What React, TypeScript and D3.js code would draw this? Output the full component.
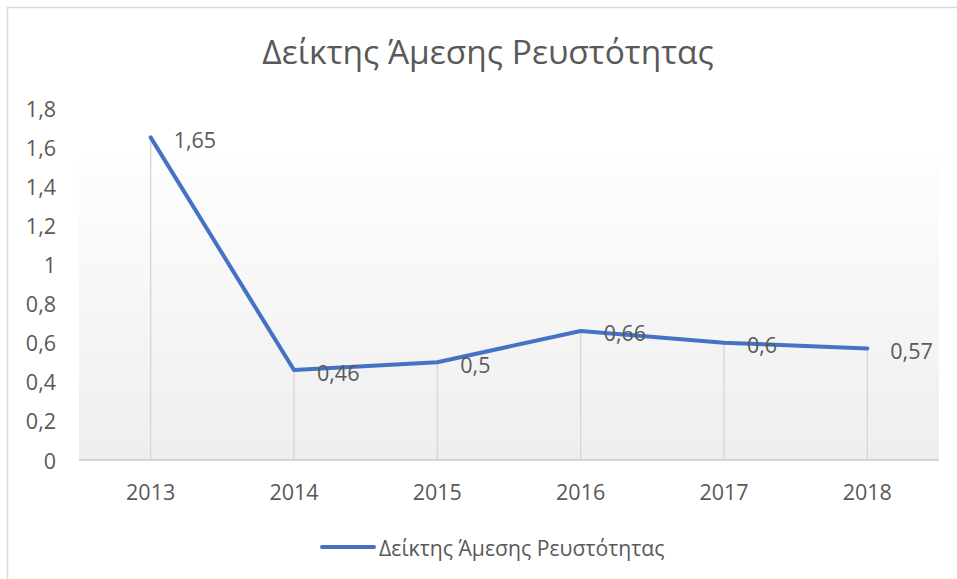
import React from "react";
import * as d3 from "d3";

const categories = ["2013", "2014", "2015", "2016", "2017", "2018"];
const values = [1.65, 0.46, 0.5, 0.66, 0.6, 0.57];
const valueLabels = ["1,65", "0,46", "0,5", "0,66", "0,6", "0,57"];
const yTicks = [0, 0.2, 0.4, 0.6, 0.8, 1, 1.2, 1.4, 1.6, 1.8];
const title = "Δείκτης Άμεσης Ρευστότητας";
const seriesName = "Δείκτης Άμεσης Ρευστότητας";

const W = 957;
const H = 579;
const plotLeft = 79;
const plotRight = 939;
const plotTop = 108;
const plotBottom = 460;
const FONT = "'Open Sans', 'Noto Sans', sans-serif";
const TEXT = "#595959";
const BLUE = "#4472C4";

export default function App() {
  const x = d3.scaleBand<string>().domain(categories).range([plotLeft, plotRight]);
  const y = d3.scaleLinear().domain([0, 1.8]).range([plotBottom, plotTop]);
  const cx = (c: string) => (x(c) as number) + x.bandwidth() / 2;
  const line = d3
    .line<number>()
    .x((_, i) => cx(categories[i]))
    .y((d) => y(d));
  const fmt = (v: number) => String(Math.round(v * 10) / 10).replace(".", ",");

  return (
    <svg
      width={W}
      height={H}
      style={{ position: "absolute", left: 0, top: 0, background: "#fff" }}
      fontFamily={FONT}
    >
      <defs>
        <linearGradient id="pa" x1="0" y1="0" x2="0" y2="1">
          <stop offset="0" stopColor="#fefefe" />
          <stop offset="1" stopColor="#eeeeee" />
        </linearGradient>
      </defs>
      <rect x={7.5} y={7.5} width={W + 10} height={H + 10} fill="#fff" stroke="#d9d9d9" strokeWidth={1.5} />
      <text x={488} y={64} textAnchor="middle" fontSize={33.5} fill={TEXT}>
        {title}
      </text>
      <rect x={plotLeft} y={153} width={plotRight - plotLeft} height={plotBottom - 153} fill="url(#pa)" />
      {yTicks.map((t) => (
        <text key={t} x={56} y={y(t)} textAnchor="end" dominantBaseline="central" fontSize={21.5} fill={TEXT}>
          {fmt(t)}
        </text>
      ))}
      {categories.map((c, i) => (
        <line key={c} x1={cx(c)} x2={cx(c)} y1={y(values[i])} y2={plotBottom} stroke="#d9d9d9" strokeWidth={1.5} />
      ))}
      <line x1={plotLeft} x2={plotRight} y1={plotBottom} y2={plotBottom} stroke="#d4d4d4" strokeWidth={2} />
      {categories.map((c) => (
        <text key={c} x={cx(c)} y={491} textAnchor="middle" dominantBaseline="central" fontSize={21.5} fill={TEXT}>
          {c}
        </text>
      ))}
      <path d={line(values) || ""} fill="none" stroke={BLUE} strokeWidth={4} strokeLinejoin="round" strokeLinecap="round" />
      {categories.map((c, i) => (
        <text key={c} x={cx(c) + 23} y={y(values[i]) + 2} dominantBaseline="central" fontSize={21.5} fill={TEXT}>
          {valueLabels[i]}
        </text>
      ))}
      <line x1={322} x2={374} y1={547} y2={547} stroke={BLUE} strokeWidth={4} strokeLinecap="round" />
      <text x={379} y={547} dominantBaseline="central" fontSize={21.2} fill={TEXT}>
        {seriesName}
      </text>
    </svg>
  );
}
